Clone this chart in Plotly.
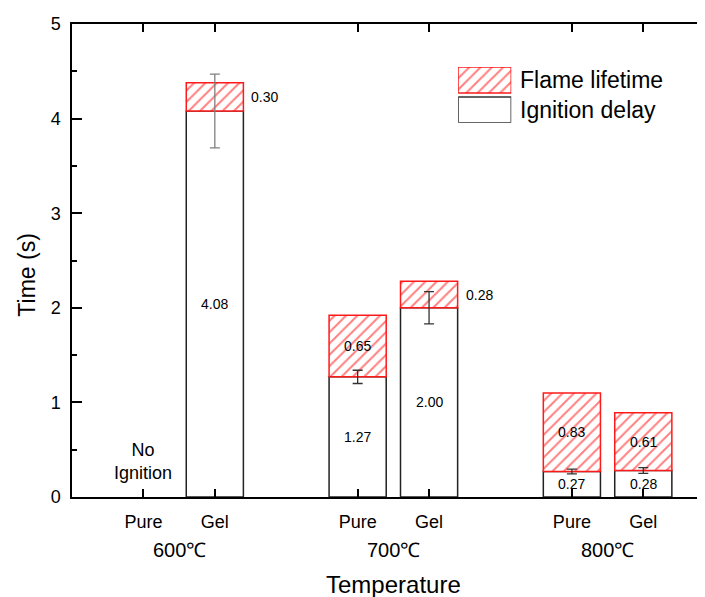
import plotly.graph_objects as go

# ---- data ----
positions = [1, 2, 4, 5, 7, 8]
tick_labels = ["Pure", "Gel", "Pure", "Gel", "Pure", "Gel"]
group_positions = [1.5, 4.5, 7.5]
group_labels = ["600℃", "700℃", "800℃"]
ignition_delay = [None, 4.08, 1.27, 2.00, 0.27, 0.28]
flame_lifetime = [None, 0.30, 0.65, 0.28, 0.83, 0.61]
ignition_err = [None, 0.39, 0.07, 0.17, 0.025, 0.03]
flame_label_outside = [False, True, False, True, False, False]

FONT = "Liberation Sans, Arial, sans-serif"
RED = "#ff1a1a"
HATCH = dict(shape="/", fgcolor="#ff0000", bgcolor="white", size=8, solidity=0.25)

fig = go.Figure()

# ignition delay bars
fig.add_trace(go.Bar(
    x=positions, y=ignition_delay, width=0.8,
    marker=dict(color="white", line=dict(color="#222", width=1.5)),
    showlegend=False, hoverinfo="skip"))

# flame lifetime bars stacked on top
fig.add_trace(go.Bar(
    x=positions, y=flame_lifetime, base=ignition_delay, width=0.8,
    marker=dict(color="white", line=dict(color=RED, width=1.5), pattern=HATCH),
    showlegend=False, hoverinfo="skip"))

# error bars on ignition delay (drawn above bars)
for idx_set, col in (([1], "#808080"), ([2, 3, 4, 5], "#333")):
    fig.add_trace(go.Scatter(
        x=[positions[i] for i in idx_set],
        y=[ignition_delay[i] for i in idx_set],
        mode="markers", marker=dict(size=1, opacity=0),
        error_y=dict(type="data", array=[ignition_err[i] for i in idx_set],
                     color=col, thickness=1.3, width=5),
        showlegend=False, hoverinfo="skip"))

annotations = []
for p, ig, fl, outside in zip(positions, ignition_delay, flame_lifetime, flame_label_outside):
    if ig is None:
        continue
    annotations.append(dict(x=p, y=ig / 2, xref="x", yref="y", text=f"{ig:.2f}",
                            showarrow=False, font=dict(size=14, color="black", family=FONT)))
    if outside:
        annotations.append(dict(x=p + 0.4, y=ig + fl / 2, xref="x", yref="y",
                                text=f"{fl:.2f}", showarrow=False, xanchor="left", xshift=6,
                                font=dict(size=14, color="black", family=FONT)))
    else:
        annotations.append(dict(x=p, y=ig + fl / 2, xref="x", yref="y", text=f"{fl:.2f}",
                                showarrow=False, font=dict(size=14, color="black", family=FONT)))

annotations.append(dict(x=positions[0], y=0.38, xref="x", yref="y", text="No<br>Ignition",
                        showarrow=False, font=dict(size=18, color="black", family=FONT)))

for gp, gl in zip(group_positions, group_labels):
    annotations.append(dict(x=gp, y=-0.112, xref="x", yref="paper", text=gl, showarrow=False,
                            yanchor="middle", font=dict(size=20, color="black", family=FONT)))

annotations.append(dict(x=4.5, y=-0.186, xref="x", yref="paper", text="Temperature",
                        showarrow=False, yanchor="middle",
                        font=dict(size=24, color="black", family=FONT)))

annotations.append(dict(x=-0.0712, y=0.468, xref="paper", yref="paper", text="Time (s)",
                        showarrow=False, textangle=-90, xanchor="center", yanchor="middle",
                        font=dict(size=23, color="black", family=FONT)))

# legend swatches (overlay axes)
fig.add_trace(go.Bar(x=[0.5], y=[1], base=[0], width=1, xaxis="x2", yaxis="y2",
                     marker=dict(color="white", line=dict(color="#333", width=1.5)),
                     showlegend=False, hoverinfo="skip"))
fig.add_trace(go.Bar(x=[0.5], y=[1], base=[1.15], width=1, xaxis="x2", yaxis="y2",
                     marker=dict(color="white", line=dict(color=RED, width=1.5), pattern=HATCH),
                     showlegend=False, hoverinfo="skip"))
annotations.append(dict(x=0.706, y=0.882, xref="paper", yref="paper", text="Flame lifetime",
                        showarrow=False, xanchor="left", yanchor="middle",
                        font=dict(size=23, color="black", family=FONT)))
annotations.append(dict(x=0.706, y=0.818, xref="paper", yref="paper", text="Ignition delay",
                        showarrow=False, xanchor="left", yanchor="middle",
                        font=dict(size=23, color="black", family=FONT)))

# page body has an 8px default margin, so the figure is offset by (8, 8)
fig.update_layout(
    width=697, height=589,
    margin=dict(l=64, r=1, t=16, b=100),
    paper_bgcolor="white", plot_bgcolor="white",
    barmode="overlay",
    font=dict(family=FONT, color="black"),
    annotations=annotations,
    xaxis=dict(range=[0, 8.85], tickmode="array", tickvals=positions, ticktext=tick_labels,
               ticks="inside", ticklen=8, tickwidth=1.5, tickcolor="black",
               showline=True, linecolor="black", linewidth=1.5, mirror="ticks",
               showgrid=False, zeroline=False, ticklabelstandoff=8, automargin=False,
               tickfont=dict(size=18, color="black", family=FONT)),
    yaxis=dict(range=[0, 5], tickvals=[0, 1, 2, 3, 4, 5], ticks="inside", ticklen=10,
               tickwidth=1.5, tickcolor="black",
               minor=dict(dtick=0.5, ticks="inside", ticklen=5, tickwidth=1.5, tickcolor="black"),
               showline=True, linecolor="black", linewidth=1.5, showgrid=False, zeroline=False,
               ticklabelstandoff=6, automargin=False,
               tickfont=dict(size=18, color="black", family=FONT)),
    xaxis2=dict(domain=[0.611, 0.695], range=[0, 1], visible=False, fixedrange=True),
    yaxis2=dict(domain=[0.791, 0.909], range=[0, 2.15], visible=False, fixedrange=True, anchor="x2"),
)

fig.write_html("out.html")
